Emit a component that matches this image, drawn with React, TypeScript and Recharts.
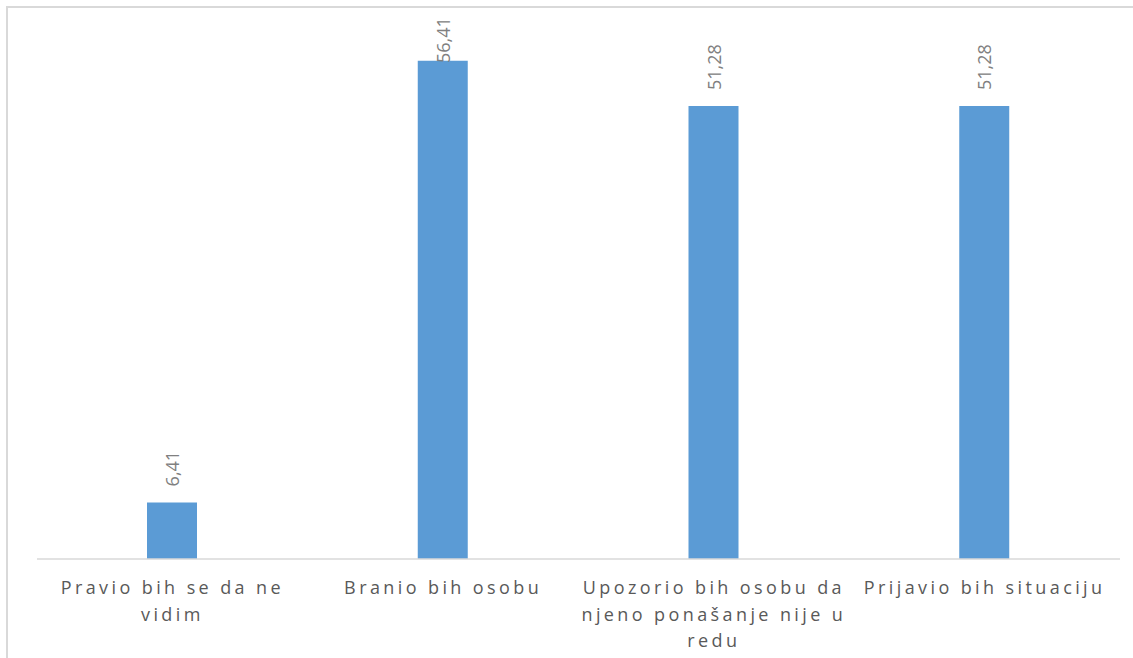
import { Bar, BarChart, LabelList, XAxis, YAxis } from 'recharts';

const categories = [
  'Pravio bih se da ne vidim',
  'Branio bih osobu',
  'Upozorio bih osobu da njeno ponašanje nije u redu',
  'Prijavio bih situaciju',
];
const values = [6.41, 56.41, 51.28, 51.28];

const rows = categories.map((name, i) => ({ name, value: values[i] }));

const FONT = '"Open Sans", "Noto Sans", sans-serif';
const SPACING = 3.4;
const MAX_CHARS = 23;

function wrapLabel(text: string) {
  const lines: string[] = [];
  let cur = '';
  for (const word of text.split(' ')) {
    const next = cur ? `${cur} ${word}` : word;
    if (next.length > MAX_CHARS && cur) {
      lines.push(cur);
      cur = word;
    } else {
      cur = next;
    }
  }
  if (cur) lines.push(cur);
  return lines;
}

function CategoryTick(props: any) {
  const { x, y, payload } = props;
  const lines = wrapLabel(String(payload.value));
  return (
    <g transform={`translate(${x},${y})`}>
      {lines.map((line, i) => (
        <text
          key={i}
          x={0}
          y={35 + i * 26.5}
          textAnchor="middle"
          fill="#595959"
          fontSize={18}
          fontFamily={FONT}
          letterSpacing={SPACING}
        >
          {line}
        </text>
      ))}
    </g>
  );
}

function ValueLabel(props: any) {
  const { x, y, width, value } = props;
  const cx = x + width / 2;
  // sits 16px above the bar, but never runs past the top of the chart area
  const start = Math.max(y - 16, 63);
  return (
    <text
      transform={`translate(${cx},${start}) rotate(-90)`}
      textAnchor="start"
      dominantBaseline="central"
      fill="#808080"
      fontSize={18}
      fontFamily={FONT}
    >
      {String(value).replace('.', ',')}
    </text>
  );
}

export default function App() {
  return (
    <div
      style={{
        position: 'absolute',
        left: 0,
        top: 0,
        width: 1133,
        height: 658,
        overflow: 'hidden',
        background: '#fff',
      }}
    >
      <div
        style={{
          position: 'absolute',
          left: 6,
          top: 6,
          width: 1200,
          height: 700,
          border: '2px solid #d9d9d9',
        }}
      />
      <div style={{ position: 'absolute', left: 0, top: 0 }}>
        <BarChart
          width={1133}
          height={658}
          data={rows}
          margin={{ top: 29, right: 13, bottom: 0, left: 37 }}
          barSize={50}
        >
          <XAxis
            dataKey="name"
            height={99}
            axisLine={{ stroke: '#d9d9d9', strokeWidth: 1.5 }}
            tickLine={false}
            tickSize={0}
            tickMargin={0}
            interval={0}
            tick={<CategoryTick />}
          />
          <YAxis hide domain={[0, 60]} />
          <Bar dataKey="value" fill="#5b9bd5" isAnimationActive={false}>
            <LabelList dataKey="value" content={<ValueLabel />} />
          </Bar>
        </BarChart>
      </div>
    </div>
  );
}
